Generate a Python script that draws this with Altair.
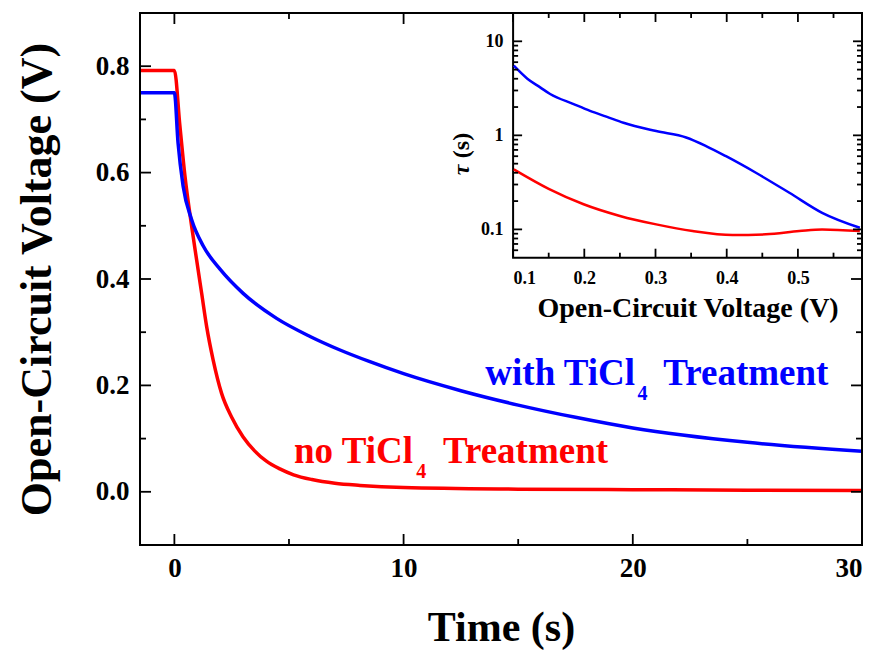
import altair as alt
import pandas as pd

# ---------------- data ----------------
# main plot: Voc decay
t_red = [-1.5, 0.0, 0.24, 0.46, 0.75, 0.97, 1.19, 1.41, 1.69, 2.06, 2.5, 3.0, 3.5, 4.0, 4.6, 5.2, 6.0, 7.0, 8.1, 10, 15, 20, 25, 30]
v_red = [0.792, 0.792, 0.688, 0.594, 0.50, 0.436, 0.373, 0.31, 0.248, 0.185, 0.14, 0.103, 0.077, 0.058, 0.043, 0.032, 0.023, 0.016, 0.012, 0.008, 0.005, 0.004, 0.003, 0.0025]
t_blue = [-1.5, 0.0, 0.16, 0.38, 0.75, 1.26, 2.0, 3.0, 4.46, 5.92, 7.2, 8.5, 10, 12.5, 15, 17.5, 20, 25, 30]
v_blue = [0.75, 0.75, 0.656, 0.575, 0.512, 0.462, 0.418, 0.373, 0.326, 0.292, 0.267, 0.245, 0.222, 0.19, 0.163, 0.14, 0.12, 0.093, 0.076]

# inset: lifetime vs Voc
vi_blue = [0.101, 0.12, 0.138, 0.152, 0.185, 0.208, 0.231, 0.255, 0.301, 0.343, 0.371, 0.399, 0.441, 0.488, 0.534, 0.587]
tau_blue = [5.5, 4.0, 3.24, 2.75, 2.15, 1.82, 1.58, 1.36, 1.11, 0.95, 0.77, 0.60, 0.40, 0.245, 0.15, 0.104]
vi_red = [0.101, 0.15, 0.199, 0.25, 0.301, 0.352, 0.408, 0.455, 0.502, 0.534, 0.587]
tau_red = [0.435, 0.27, 0.185, 0.139, 0.113, 0.096, 0.087, 0.0886, 0.096, 0.1, 0.096]

series_names = ["no TiCl4 Treatment", "with TiCl4 Treatment"]
series_colors = ["#ff0000", "#0000ff"]

# tick values
main_x_major = [0, 10, 20, 30]
main_x_minor = [5, 15, 25]
main_y_major = [0.0, 0.2, 0.4, 0.6, 0.8]
main_y_minor = [0.1, 0.3, 0.5, 0.7]
ins_x_major = [0.1, 0.2, 0.3, 0.4, 0.5]
ins_x_minor = [0.15, 0.25, 0.35, 0.45, 0.55]
ins_y_major = [0.1, 1, 10]
ins_y_minor = [0.06, 0.07, 0.08, 0.09, 0.2, 0.3, 0.4, 0.5, 0.6, 0.7, 0.8, 0.9,
               2, 3, 4, 5, 6, 7, 8, 9, 20]

# annotation text pieces (data coordinates of the main plot)
ann_series = ["with TiCl4 Treatment", "no TiCl4 Treatment"]
ann_head = ["with TiCl", "no TiCl"]
ann_head_t = [20.1, 10.41]
ann_head_v = [0.2006, 0.0534]
ann_sub = ["4", "4"]
ann_sub_t = [20.2, 10.55]
ann_sub_v = [0.172, 0.0251]
ann_tail = ["Treatment", "Treatment"]
ann_tail_t = [21.33, 11.72]
ann_tail_v = [0.2006, 0.0534]

# ---------------- layout ----------------
W, H = 722, 532
IX0 = 373.1          # inset left edge (px within plot)
IY1 = 244.7          # inset bottom edge (px within plot)
FONT = "Liberation Serif"
TICK_COLOR = "black"

color_enc = alt.Color("series:N", scale=alt.Scale(domain=series_names, range=series_colors), legend=None)

main_x = alt.Scale(domain=[-1.5, 30], nice=False, zero=False)
main_y = alt.Scale(domain=[-0.1, 0.9], nice=False, zero=False)
main_x_axis = alt.Axis(orient="bottom", values=main_x_major, format="d", ticks=False, domain=False,
                       grid=False, labelFont=FONT, labelFontWeight="bold", labelFontSize=27,
                       labelPadding=10, title="Time (s)", titleFont=FONT, titleFontWeight="bold",
                       titleFontSize=42, titlePadding=26)
main_y_axis = alt.Axis(orient="left", values=main_y_major, format=".1f", ticks=False, domain=False,
                       grid=False, labelFont=FONT, labelFontWeight="bold", labelFontSize=27,
                       labelPadding=11, title="Open-Circuit Voltage (V)", titleFont=FONT,
                       titleFontWeight="bold", titleFontSize=44, titlePadding=36)

ins_x = alt.Scale(domain=[0.1, 0.59], range=[IX0, W], nice=False, zero=False)
ins_y = alt.Scale(type="log", domain=[0.05, 20], range=[IY1, 0], nice=False)
ins_x_axis = alt.Axis(orient="bottom", offset=-(H - IY1), values=ins_x_major, format=".1f",
                      ticks=False, domain=False, grid=False, labelFont=FONT, labelFontWeight="bold",
                      labelFontSize=18, labelPadding=12, title="Open-Circuit Voltage (V)",
                      titleFont=FONT, titleFontWeight="bold", titleFontSize=28, titlePadding=7)
ins_y_axis = alt.Axis(orient="left", offset=-IX0, values=ins_y_major, format="~g",
                      ticks=False, domain=False, grid=False, labelFont=FONT, labelFontWeight="bold",
                      labelFontSize=18, labelPadding=10, title=None)

df_main = pd.concat([
    pd.DataFrame({"t": t_red, "V": v_red, "series": series_names[0]}),
    pd.DataFrame({"t": t_blue, "V": v_blue, "series": series_names[1]}),
])

main_lines = alt.Chart(df_main).mark_line(strokeWidth=3.5, interpolate="monotone", clip=True).encode(
    x=alt.X("t:Q", scale=main_x, axis=main_x_axis),
    y=alt.Y("V:Q", scale=main_y, axis=main_y_axis),
    color=color_enc,
    detail="series:N",
)

frame = alt.Chart(pd.DataFrame({"a": [0]})).mark_rect(
    fill="transparent", stroke="black", strokeWidth=2).encode(
    x=alt.value(0), x2=alt.value(W), y=alt.value(0), y2=alt.value(H))


def vticks(vals, field, scale, y0, y1):
    return alt.Chart(pd.DataFrame({field: vals})).mark_rule(stroke=TICK_COLOR, strokeWidth=1.8).encode(
        x=alt.X(f"{field}:Q", scale=scale, axis=None), y=alt.value(y0), y2=alt.value(y1))


def hticks(vals, field, scale, x0, x1):
    return alt.Chart(pd.DataFrame({field: vals})).mark_rule(stroke=TICK_COLOR, strokeWidth=1.8).encode(
        y=alt.Y(f"{field}:Q", scale=scale, axis=None), x=alt.value(x0), x2=alt.value(x1))


MJ, MN = 11, 6
main_ticks = [
    vticks(main_x_major, "t", main_x, H, H - MJ),
    vticks(main_x_minor, "t", main_x, H, H - MN),
    vticks(main_x_major, "t", main_x, 0, MJ),
    vticks(main_x_minor, "t", main_x, 0, MN),
    hticks(main_y_major, "V", main_y, 0, MJ),
    hticks(main_y_minor, "V", main_y, 0, MN),
    hticks(main_y_major, "V", main_y, W, W - MJ),
    hticks(main_y_minor, "V", main_y, W, W - MN),
]

df_head = pd.DataFrame({"t": ann_head_t, "V": ann_head_v, "txt": ann_head, "series": ann_series})
df_sub = pd.DataFrame({"t": ann_sub_t, "V": ann_sub_v, "txt": ann_sub, "series": ann_series})
df_tail = pd.DataFrame({"t": ann_tail_t, "V": ann_tail_v, "txt": ann_tail, "series": ann_series})


def ann(df, align, size):
    return alt.Chart(df).mark_text(align=align, baseline="alphabetic", font=FONT, fontWeight="bold",
                                   fontSize=size).encode(
        x=alt.X("t:Q", scale=main_x, axis=None), y=alt.Y("V:Q", scale=main_y, axis=None),
        text="txt:N", color=color_enc)


main_layer = alt.layer(main_lines, frame, *main_ticks, ann(df_head, "right", 37), ann(df_sub, "left", 20),
                       ann(df_tail, "left", 37)).resolve_axis(x="independent", y="independent")

# ---------------- inset ----------------
df_ins = pd.concat([
    pd.DataFrame({"vi": vi_red, "tau": tau_red, "series": series_names[0]}),
    pd.DataFrame({"vi": vi_blue, "tau": tau_blue, "series": series_names[1]}),
])

bg = alt.Chart(pd.DataFrame({"vi": [0.1], "tau": [1.0]})).mark_rect(
    fill="white", stroke="black", strokeWidth=2).encode(
    x=alt.value(IX0), x2=alt.value(W), y=alt.value(0), y2=alt.value(IY1))

ins_lines = alt.Chart(df_ins).mark_line(strokeWidth=2.5, interpolate="monotone").encode(
    x=alt.X("vi:Q", scale=ins_x, axis=ins_x_axis),
    y=alt.Y("tau:Q", scale=ins_y, axis=ins_y_axis),
    color=color_enc,
    detail="series:N",
)

# inset y-axis title: italic tau + "(s)", rotated
ytitle_txt = ["(s)", "τ"]
ytitle_style = ["normal", "italic"]
ytitle_pos = [132.5, 157.0]
ins_ytitle = [
    alt.Chart(pd.DataFrame({"txt": [ytitle_txt[i]]})).mark_text(
        angle=270, align="center", baseline="middle", font=FONT, fontWeight="bold",
        fontStyle=ytitle_style[i], fontSize=24, color="black").encode(
        text="txt:N", x=alt.value(321.5), y=alt.value(ytitle_pos[i]))
    for i in range(2)
]

IMJ, IMN = 9, 5
ins_ticks = [
    vticks(ins_x_major, "vi", ins_x, IY1, IY1 - IMJ),
    vticks(ins_x_minor, "vi", ins_x, IY1, IY1 - IMN),
    vticks(ins_x_major, "vi", ins_x, 0, IMJ),
    vticks(ins_x_minor, "vi", ins_x, 0, IMN),
    hticks(ins_y_major, "tau", ins_y, IX0, IX0 + IMJ),
    hticks(ins_y_minor, "tau", ins_y, IX0, IX0 + IMN),
    hticks(ins_y_major, "tau", ins_y, W, W - IMJ),
    hticks(ins_y_minor, "tau", ins_y, W, W - IMN),
]

inset_layer = alt.layer(bg, ins_lines, *ins_ticks, *ins_ytitle).resolve_axis(
    x="independent", y="independent")

chart = alt.layer(main_layer, inset_layer).resolve_scale(x="independent", y="independent").properties(
    width=W, height=H,
    background="white",
    autosize=alt.AutoSizeParams(type="none"),
    padding={"left": 140, "top": 13, "right": 18, "bottom": 106},
).configure_view(stroke="transparent").configure_axis(
    labelFont=FONT, titleFont=FONT, labelFontWeight="bold", titleFontWeight="bold",
    labelColor="black", titleColor="black",
)

chart.save("out.html", embed_options={"renderer": "svg", "actions": False})
